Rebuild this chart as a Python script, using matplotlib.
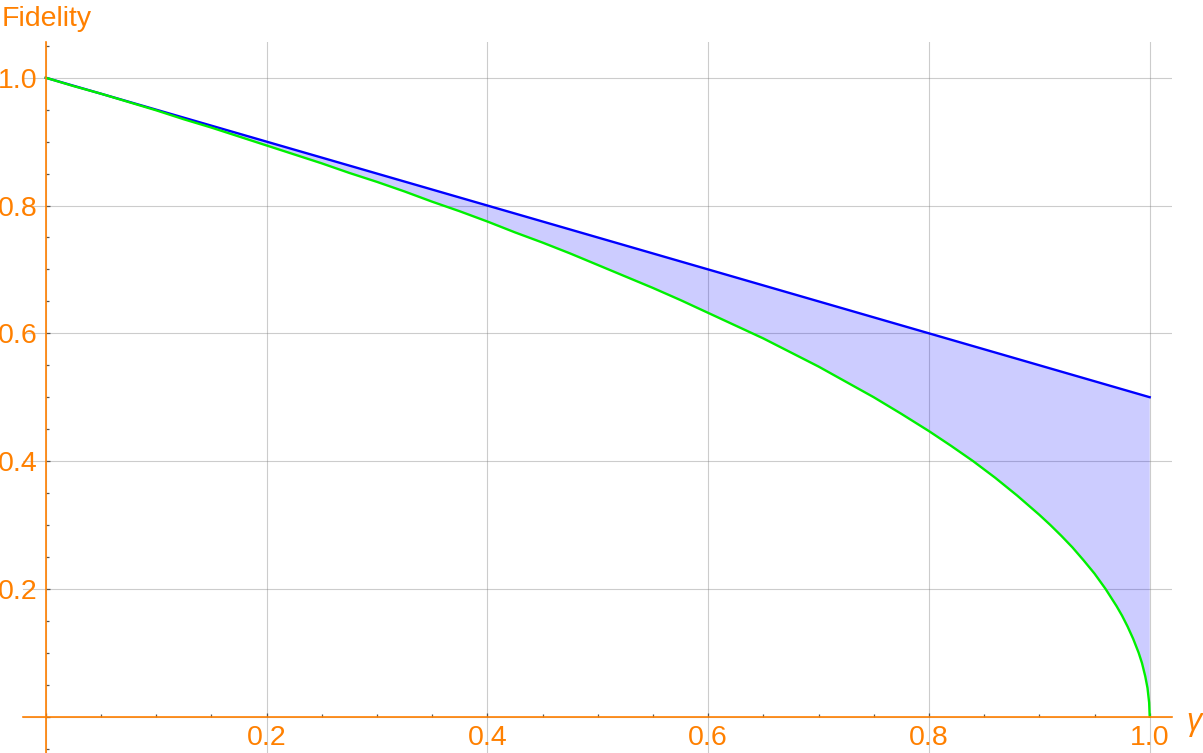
import matplotlib
matplotlib.use("Agg")
import matplotlib.pyplot as plt
import numpy as np
from matplotlib.ticker import FixedLocator, FixedFormatter, MultipleLocator

# values
gamma_upper = [0.0, 0.2, 0.4, 0.6, 0.8, 1.0]
fidelity_upper = [1.0, 0.9, 0.8, 0.7, 0.6, 0.5]

gamma_lower = [0.0, 0.025, 0.05, 0.075, 0.1, 0.125, 0.15, 0.175, 0.2, 0.225,
               0.25, 0.275, 0.3, 0.325, 0.35, 0.375, 0.4, 0.425, 0.45, 0.475,
               0.5, 0.525, 0.55, 0.575, 0.6, 0.625, 0.65, 0.675, 0.7, 0.725,
               0.75, 0.775, 0.8, 0.82, 0.84, 0.86, 0.88, 0.9, 0.91, 0.92,
               0.93, 0.94, 0.95, 0.96, 0.97, 0.975, 0.98, 0.985, 0.99, 0.993,
               0.996, 0.998, 0.9995, 1.0]
fidelity_lower = [1.0, 0.987, 0.975, 0.962, 0.949, 0.935, 0.922, 0.908, 0.894,
                  0.880, 0.866, 0.851, 0.837, 0.822, 0.806, 0.791, 0.775,
                  0.758, 0.742, 0.725, 0.707, 0.689, 0.671, 0.652, 0.632,
                  0.612, 0.592, 0.570, 0.548, 0.524, 0.5, 0.474, 0.447, 0.424,
                  0.4, 0.374, 0.346, 0.316, 0.3, 0.283, 0.265, 0.245, 0.224,
                  0.2, 0.173, 0.158, 0.141, 0.122, 0.1, 0.084, 0.063, 0.045,
                  0.022, 0.0]

major_ticks = [0.0, 0.2, 0.4, 0.6, 0.8, 1.0]
major_labels = ["", "0.2", "0.4", "0.6", "0.8", "1.0"]

ORANGE = "#ff8000"
TICK = "#555555"
W, H = 1203, 753

plt.rcParams["font.family"] = ["Liberation Sans", "DejaVu Sans"]

fig = plt.figure(figsize=(W / 100, H / 100), dpi=100)
ax = fig.add_axes([23 / W, 0, 1149 / W, 711 / H])
ax.set_xlim(-0.0206, 1.0202)
ax.set_ylim(-0.0568, 1.0559)

# shaded band between the two curves
poly_x = np.concatenate([gamma_upper, gamma_lower[::-1]])
poly_y = np.concatenate([fidelity_upper, fidelity_lower[::-1]])
ax.fill(poly_x, poly_y, color=(0.0, 0.0, 1.0), alpha=0.2, lw=0, zorder=1)

ax.plot(gamma_upper, fidelity_upper, color="#0000ff", lw=1.7, zorder=3)
ax.plot(gamma_lower, fidelity_lower, color="#00f000", lw=1.7, zorder=3,
        solid_joinstyle="round")

for side in ("top", "right"):
    ax.spines[side].set_visible(False)
for side in ("left", "bottom"):
    ax.spines[side].set_position(("data", 0))
    ax.spines[side].set_color(ORANGE)
    ax.spines[side].set_linewidth(1.2)
    ax.spines[side].set_zorder(4)

for axis in (ax.xaxis, ax.yaxis):
    axis.set_major_locator(FixedLocator(major_ticks))
    axis.set_major_formatter(FixedFormatter(major_labels))
    axis.set_minor_locator(MultipleLocator(0.05))

ax.tick_params(which="both", direction="in", color=TICK, width=0.9,
               labelcolor=ORANGE, labelsize=20.5)
ax.tick_params(which="major", length=3.2)
ax.tick_params(which="minor", length=2.0)
ax.tick_params(axis="y", which="major", pad=6)
ax.tick_params(axis="x", which="major", pad=6)

ax.grid(which="major", color="#808080", alpha=0.4, lw=0.8, zorder=0)
ax.set_axisbelow(True)

fig.text(2 / W, 1 - 26 / H, "Fidelity", color=ORANGE, fontsize=20.5,
         ha="left", va="baseline")
fig.text(1186 / W, 1 - 722 / H, "γ", color=ORANGE, fontsize=22,
         style="italic", ha="left", va="center")

fig.savefig("out.png", dpi=100, facecolor="white")
